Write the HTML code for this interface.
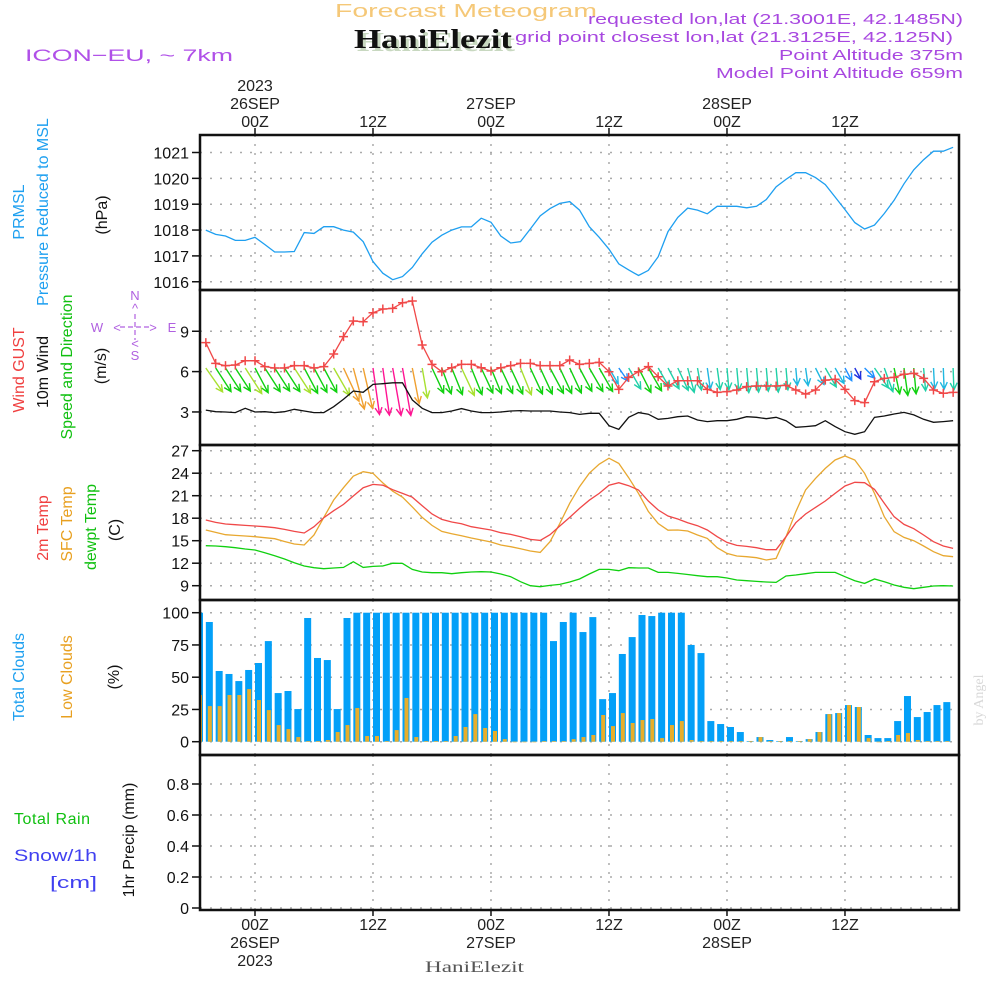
<!DOCTYPE html>
<html><head><meta charset="utf-8"><title>Forecast Meteogram</title>
<style>
html,body{margin:0;padding:0;background:#fff;width:1000px;height:1000px;overflow:hidden}
svg text{font-family:"Liberation Sans",sans-serif}
</style></head>
<body>
<svg id="chart" xmlns="http://www.w3.org/2000/svg" width="1000" height="1000" viewBox="0 0 1000 1000">
<defs>
<clipPath id="c1"><rect x="200" y="135" width="759" height="155"/></clipPath>
<clipPath id="c2"><rect x="200" y="290" width="759" height="155"/></clipPath>
<clipPath id="c3"><rect x="200" y="445" width="759" height="155"/></clipPath>
<clipPath id="c4"><rect x="200" y="600" width="759" height="155"/></clipPath>
</defs>
<!-- header -->
<text x="335" y="17" font-size="18" fill="#f5c878" textLength="262" lengthAdjust="spacingAndGlyphs">Forecast Meteogram</text>
<text x="357" y="51" font-size="27" font-weight="bold" fill="#c8d8c0" style="font-family:'Liberation Serif',serif" textLength="158" lengthAdjust="spacingAndGlyphs">HaniElezit</text>
<text x="354" y="48" font-size="27" font-weight="bold" fill="#111" style="font-family:'Liberation Serif',serif" textLength="158" lengthAdjust="spacingAndGlyphs">HaniElezit</text>
<text x="25" y="61" font-size="17" fill="#b050e8" textLength="208" lengthAdjust="spacingAndGlyphs">ICON−EU, ~ 7km</text>
<text x="588" y="24" font-size="15" fill="#a848e0" textLength="375" lengthAdjust="spacingAndGlyphs">requested lon,lat (21.3001E, 42.1485N)</text>
<text x="515" y="42" font-size="15" fill="#a848e0" textLength="438" lengthAdjust="spacingAndGlyphs">grid point closest lon,lat (21.3125E, 42.125N)</text>
<text x="779" y="60" font-size="15" fill="#a848e0" textLength="184" lengthAdjust="spacingAndGlyphs">Point Altitude 375m</text>
<text x="716" y="78" font-size="15" fill="#a848e0" textLength="247" lengthAdjust="spacingAndGlyphs">Model Point Altitude 659m</text>

<!-- left labels -->
<g font-size="16" text-anchor="middle">
<text transform="translate(24,212) rotate(-90)" fill="#1ea0f0">PRMSL</text>
<text transform="translate(48,212) rotate(-90)" fill="#1ea0f0">Pressure Reduced to MSL</text>
<text transform="translate(107,215) rotate(-90)" fill="#111">(hPa)</text>
<text transform="translate(24,370) rotate(-90)" fill="#f04040">Wind GUST</text>
<text transform="translate(48,372) rotate(-90)" fill="#111">10m Wind</text>
<text transform="translate(72,367) rotate(-90)" fill="#10c010">Speed and Direction</text>
<text transform="translate(106,366) rotate(-90)" fill="#111">(m/s)</text>
<text transform="translate(48,528) rotate(-90)" fill="#f04040">2m Temp</text>
<text transform="translate(72,524) rotate(-90)" fill="#e8a020">SFC Temp</text>
<text transform="translate(96,527) rotate(-90)" fill="#10c010">dewpt Temp</text>
<text transform="translate(120,530) rotate(-90)" fill="#111">(C)</text>
<text transform="translate(24,677) rotate(-90)" fill="#1ea0f0">Total Clouds</text>
<text transform="translate(72,677) rotate(-90)" fill="#e8a020">Low Clouds</text>
<text transform="translate(119,677) rotate(-90)" fill="#111">(%)</text>
<text transform="translate(134,840) rotate(-90)" fill="#111">1hr Precip (mm)</text>
</g>
<text x="14" y="824" font-size="16" fill="#10c010" textLength="76" lengthAdjust="spacing">Total  Rain</text>
<text x="14" y="861" font-size="17" fill="#4040f0" textLength="83" lengthAdjust="spacingAndGlyphs">Snow/1h</text>
<text x="50" y="888" font-size="17" fill="#4040f0" textLength="47" lengthAdjust="spacingAndGlyphs">[cm]</text>
<!-- compass -->
<g fill="#b060e0" font-size="13" text-anchor="middle">
<text x="135" y="300">N</text><text x="135" y="313">^</text>
<line x1="135" y1="314" x2="135" y2="340" stroke="#b060e0" stroke-width="1.2" stroke-dasharray="5,3"/>
<line x1="120" y1="327" x2="150" y2="327" stroke="#b060e0" stroke-width="1.2" stroke-dasharray="5,3"/>
<text x="97" y="332">W</text><text x="117" y="332">&lt;</text><text x="153" y="332">&gt;</text><text x="172" y="332">E</text>
<text x="135" y="348">&lt;</text><text x="135" y="360">S</text>
</g>
<text transform="translate(983,700) rotate(-90)" font-size="14" fill="#d8d8d8" text-anchor="middle" style="font-family:'Liberation Serif',serif">by Angel</text>
<text x="425" y="972" font-size="16" fill="#555" style="font-family:'Liberation Serif',serif" textLength="99" lengthAdjust="spacingAndGlyphs">HaniElezit</text>

<g id="grid"></g>
<g id="marks"></g>
<g id="frames"></g>
<g id="axes"></g>
</svg>
<script>
// ---------- data ----------
const startHour = -5;           // first sample hour relative to 26SEP 00Z
const cloudStartHour = -6;
const pressure = [18.0,17.83,17.77,17.6,17.6,17.72,17.44,17.15,17.15,17.17,17.9,17.87,18.13,18.13,18.0,17.92,17.55,16.78,16.33,16.08,16.2,16.55,17.08,17.53,17.8,18.0,18.12,18.12,18.46,18.3,17.77,17.5,17.55,18.04,18.55,18.83,19.03,19.1,18.77,18.13,
17.72,17.26,16.69,16.46,16.24,16.44,16.97,17.94,18.49,18.85,18.77,18.63,18.92,18.92,18.92,18.86,18.92,19.18,19.67,19.96,20.22,20.22,20.03,19.76,19.28,18.79,18.29,18.04,18.19,18.64,19.15,19.79,20.33,20.72,21.05,21.05,21.2].map(v=>1000+v);
const gust = [8.15,6.61,6.44,6.49,6.81,6.81,6.37,6.27,6.27,6.44,6.44,6.27,6.37,7.31,8.6,9.76,9.71,10.38,10.65,10.7,11.12,11.25,7.98,6.54,5.99,6.29,6.54,6.54,6.29,6.04,6.29,6.44,6.61,6.61,6.44,6.44,6.44,6.86,6.54,6.61,
6.69,5.99,4.68,5.57,5.99,6.37,5.62,4.93,5.32,5.32,5.32,4.68,4.46,4.51,4.63,4.88,4.93,4.93,4.93,4.98,4.63,4.33,4.63,5.37,5.43,4.68,3.84,3.69,5.25,5.5,5.57,5.8,5.87,5.5,4.63,4.39,4.46];
const windSpeed = [3.14,3.02,3.0,2.95,3.27,3.0,3.02,2.95,3.02,3.2,3.07,2.95,2.95,3.39,3.94,4.56,4.46,5.05,5.1,5.17,5.17,3.89,3.27,2.95,2.95,3.07,3.25,3.07,2.95,2.95,3.0,3.07,3.1,3.07,3.07,3.07,3.0,2.95,2.82,2.9,
2.9,1.98,1.71,2.6,2.95,2.83,2.45,2.52,2.65,2.7,2.4,2.28,2.35,2.35,2.45,2.65,2.6,2.5,2.6,2.35,1.86,1.91,1.98,2.35,1.91,1.53,1.34,1.53,2.6,2.7,2.85,2.97,2.78,2.45,2.23,2.28,2.35];
const windDir = [35,33,33,33,33,28,33,33,33,33,28,28,
28,30,25,15,13,8,8,10,10,11,
10,25,20,22,25,22,25,22,25,25,22,25,25,28,25,25,28,30,
30,30,35,30,27,30,30,28,25,15,10,8,8,5,5,5,5,5,5,5,5,8,27,30,30,28,28,45,35,20,12,8,5,5,3,2,2];
const temp2m = [17.76,17.44,17.22,17.13,17.04,16.96,16.87,16.73,16.51,16.24,16.02,16.87,18.07,19.0,19.84,20.96,22.07,22.5,22.4,21.8,21.3,20.8,19.67,18.56,17.84,17.49,17.27,16.87,16.64,16.42,16.07,15.84,15.53,15.18,15.04,15.8,16.96,18.1,19.3,
20.4,21.3,22.4,22.73,22.33,21.76,20.29,19.09,18.29,17.9,17.4,17.0,16.42,15.53,14.78,14.38,14.24,14.07,13.8,13.8,15.53,17.4,18.56,19.44,20.29,21.31,22.29,22.78,22.73,21.84,19.98,18.2,17.18,16.6,15.76,14.87,14.29,13.98];
const tempSfc = [16.42,16.1,15.8,15.71,15.62,15.53,15.4,15.27,14.9,14.56,14.42,15.76,18.1,20.42,22.07,23.6,24.2,23.98,22.7,21.6,20.8,19.5,18.1,17.04,16.24,15.93,15.67,15.36,15.1,14.82,14.42,14.2,13.93,13.62,13.44,14.87,17.3,19.98,22.2,
24.0,25.2,26.0,25.3,23.4,21.3,18.9,17.3,16.4,16.42,16.29,15.76,15.31,14.07,13.31,12.96,12.87,12.73,12.42,12.64,15.53,18.87,21.76,23.31,24.64,25.76,26.29,25.76,23.98,21.31,18.2,16.2,15.44,15.0,14.29,13.53,13.0,12.87];
const dewpt = [14.33,14.3,14.2,14.07,13.9,13.76,13.4,13.0,12.56,12.07,11.62,11.4,11.27,11.36,11.44,12.2,11.44,11.58,11.62,12.0,11.98,11.18,10.82,10.73,10.73,10.6,10.73,10.82,10.87,10.82,10.56,10.2,9.53,9.0,8.87,9.04,9.18,9.5,9.9,
10.56,11.18,11.18,11.0,11.4,11.36,11.36,10.78,10.78,10.64,10.5,10.33,10.2,10.2,10.02,9.76,9.67,9.58,9.5,9.44,10.29,10.42,10.6,10.78,10.78,10.78,10.2,9.67,9.31,9.9,9.53,9.09,8.78,8.6,8.78,8.96,9.0,8.96];
const cloudTotal = [100,92.8,54.8,52.5,47,55.6,61,78,37.7,39.3,25.3,95.9,64.9,63.3,25.3,95.9,
100,100,100,100,100,100,100,100,100,100,100,100,100,100,100,100,100,100,100,100,78,92.8,100,
85,96.6,33,37.7,68,81.1,98.2,97.4,100,100,100,75,68.7,16,13.7,11.4,7.5,0.5,3.6,1.3,0.5,3.6,0.5,2,7.5,21.4,22.2,28.4,26.9,5.2,2.8,2.8,16,35.4,19.1,23,28.4,30.7];
const cloudLow = [36.2,27.6,27.6,36.2,36.2,40.8,32.3,24.5,12.9,9.8,3.6,0.5,0.5,1.3,7.5,12.9,26.1,4.4,4.4,0.5,9,33.9,3.6,0.5,0.5,0.5,4.4,11.4,21.4,10.6,8.3,2,0,0,0,0.5,0.5,0.5,2,
3.6,5.2,20.7,12.1,22.2,14.5,16.8,17.6,2.8,12.9,16,1.3,0.5,0.5,0.5,0.5,0.5,0.5,3.6,0.5,0.5,0.5,0.5,2,7.5,21.4,22.2,28.4,26.9,2.8,0,0.5,5.2,6.7,1.3,0.5,0.5,0.5];
const pressureTicks = [1016,1017,1018,1019,1020,1021];
const windTicks = [3,6,9];
const tempTicks = [9,12,15,18,21,24,27];
const cloudTicks = [0,25,50,75,100];
const precipTicks = [0,0.2,0.4,0.6,0.8];
const timeTickHours = [0,12,24,36,48,60];
const timeTickLabels = ["00Z","12Z","00Z","12Z","00Z","12Z"];
const dateLabels = ["26SEP","","27SEP","","28SEP",""];
const yearLabels = ["2023","","","","",""];

// ---------- scales ----------
const X = h => 255 + 9.833*h;
const yP = v => 152.5 + (1021 - v)*25.85;
const yW = v => 452.3 - v*13.45;
const yT = v => 450.7 + (27 - v)*7.5;
const yC = v => 741.7 - v*1.29;
const yR = v => 908 - v*155;

const NS='http://www.w3.org/2000/svg';
function mk(parent, tag, attrs){const e=document.createElementNS(NS,tag);for(const k in attrs)e.setAttribute(k,attrs[k]);document.getElementById(parent).appendChild(e);return e;}

// grid
const panels=[[135,290],[290,445],[445,600],[600,755],[755,910]];
panels.forEach((p,i)=>{
  timeTickHours.forEach(h=>{
    const g=mk('grid','line',{x1:X(h),x2:X(h),y1:p[0],y2:p[1],stroke:'#aaa','stroke-width':1.5,'stroke-dasharray':'2,7'});
    
    
  });
});
function hgrid(ticks, yf, fmt, name){
  ticks.forEach(t=>{
    const y=yf(t);
    const g=mk('grid','line',{x1:200,x2:959,y1:y,y2:y,stroke:'#aaa','stroke-width':1.5,'stroke-dasharray':'2,8'});
    
    
    const tk=mk('axes','line',{x1:192,x2:200,y1:y,y2:y,stroke:'#111','stroke-width':1.5});
    
    
    const tx=mk('axes','text',{x:189,y:y+6,'font-size':16,'text-anchor':'end',fill:'#111'});
    tx.textContent=fmt(t);
    
    
  });
}
hgrid(pressureTicks,yP,t=>String(t),'pressure');
hgrid(windTicks,yW,t=>String(t),'wind');
hgrid(tempTicks,yT,t=>String(t),'temp');
hgrid(cloudTicks,yC,t=>String(t),'cloud');
hgrid(precipTicks,yR,t=>t===0?'0':t.toFixed(1),'precip');

// lines
function line(vals, yf, color, clip, name, h0){
  const pts=vals.map((v,i)=>X(h0+i).toFixed(1)+','+yf(v).toFixed(1)).join(' ');
  const e=mk('marks','polyline',{points:pts,fill:'none',stroke:color,'stroke-width':1.3,'clip-path':'url(#'+clip+')'});
  
  
  return e;
}
line(pressure,yP,'#1e9ff0','c1','pressure-line',startHour);

// clouds
cloudTotal.forEach((v,i)=>{
  const x=X(cloudStartHour+i);
  const b=mk('marks','rect',{x:x,y:yC(v),width:7,height:Math.max(0,yC(0)-yC(v)),fill:'#03a0f8','clip-path':'url(#c4)'});
  
  
});
cloudLow.forEach((v,i)=>{
  const x=X(cloudStartHour+i);
  const b=mk('marks','rect',{x:x+2,y:yC(v),width:4,height:Math.max(0.6,yC(0)-yC(v)),fill:'#e8ae2a','clip-path':'url(#c4)'});
  
  
});

// wind arrows
function arrowColor(s){
  if(s>=4.9) return '#ff1493';
  if(s>=3.8) return '#f0a030';
  if(s>=3.1) return '#a8e030';
  if(s>=2.75) return '#10d010';
  if(s>=2.3) return '#20d0a8';
  if(s>=1.8) return '#20b8e0';
  if(s>=1.45) return '#1e90ff';
  return '#2030e0';
}
windSpeed.forEach((s,i)=>{
  const a=windDir[i]*Math.PI/180, L=9.3*s;
  const x0=X(startHour+i), y0=368;
  const x1=x0+L*Math.sin(a), y1=y0+L*Math.cos(a);
  const c=arrowColor(s);
  const ux=Math.sin(a), uy=Math.cos(a);
  const hl=7, hw=3.5;
  const bx=x1-ux*hl, by=y1-uy*hl;
  const d=`M${x0.toFixed(1)},${y0} L${x1.toFixed(1)},${y1.toFixed(1)} M${(bx+uy*hw).toFixed(1)},${(by-ux*hw).toFixed(1)} L${x1.toFixed(1)},${y1.toFixed(1)} L${(bx-uy*hw).toFixed(1)},${(by+ux*hw).toFixed(1)}`;
  const e=mk('marks','path',{d:d,fill:'none',stroke:c,'stroke-width':1.4,'clip-path':'url(#c2)'});
  
  
});
line(windSpeed,yW,'#111','c2','wind-speed-line',startHour);
line(gust,yW,'#f04848','c2','wind-gust-line',startHour);
gust.forEach((v,i)=>{
  const x=X(startHour+i), y=yW(v);
  const e=mk('marks','path',{d:`M${x-4.5},${y} h9 M${x},${y-4.5} v9`,stroke:'#f04848','stroke-width':1.5,'clip-path':'url(#c2)'});
  
  
});

// temps
line(tempSfc,yT,'#e8a830','c3','sfc-temp-line',startHour);
line(temp2m,yT,'#f04848','c3','temp-2m-line',startHour);
line(dewpt,yT,'#10d010','c3','dewpoint-line',startHour);

// frames
panels.forEach((p,i)=>{
  const r=mk('frames','rect',{x:200,y:p[0],width:759,height:p[1]-p[0],fill:'none',stroke:'#111','stroke-width':2.5});
  
  
});

// time axes
timeTickHours.forEach((h,i)=>{
  const x=X(h);
  const t1=mk('axes','line',{x1:x,x2:x,y1:128,y2:135,stroke:'#111','stroke-width':1.5});
  
  
  const t2=mk('axes','line',{x1:x,x2:x,y1:910,y2:916,stroke:'#111','stroke-width':1.5});
  
  
  const lab=mk('axes','text',{x:x,y:127,'font-size':16,'text-anchor':'middle',fill:'#222'});
  lab.textContent=timeTickLabels[i];
  
  
  const lab2=mk('axes','text',{x:x,y:930,'font-size':16,'text-anchor':'middle',fill:'#222'});
  lab2.textContent=timeTickLabels[i];
  
  
  if(dateLabels[i]){
    const d1=mk('axes','text',{x:x,y:109,'font-size':16,'text-anchor':'middle',fill:'#222'});
    d1.textContent=dateLabels[i];
    
    
    const d2=mk('axes','text',{x:x,y:948,'font-size':16,'text-anchor':'middle',fill:'#222'});
    d2.textContent=dateLabels[i];
    
    
  }
  if(yearLabels[i]){
    const y1=mk('axes','text',{x:x,y:91,'font-size':16,'text-anchor':'middle',fill:'#222'});
    y1.textContent=yearLabels[i];
    
    
    const y2=mk('axes','text',{x:x,y:966,'font-size':16,'text-anchor':'middle',fill:'#222'});
    y2.textContent=yearLabels[i];
    
    
  }
});
</script>
</body></html>
